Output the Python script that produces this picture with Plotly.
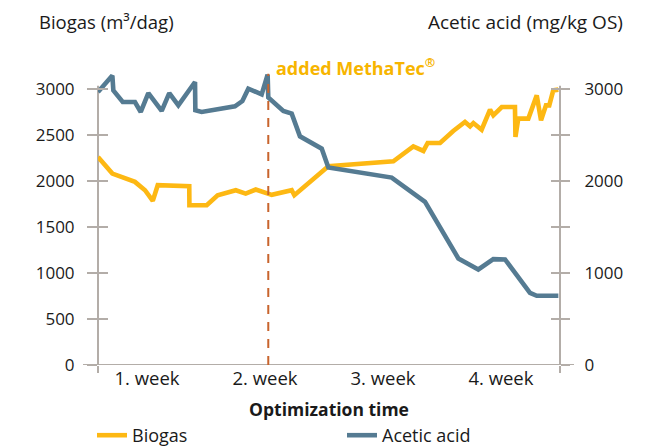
import plotly.graph_objects as go

# ---- data (x in days of optimization) ----
biogas_days = [0, 0.87, 2.24, 2.85, 3.32, 3.62, 5.53, 5.54, 6.59, 7.25, 8.35, 8.95, 9.56,
               10.53, 11.74, 11.90, 13.96, 17.90, 19.11, 19.72, 19.98, 20.73, 21.53, 22.24,
               22.55, 22.75, 23.25, 23.76, 23.96, 24.47, 25.27, 25.30, 25.47, 26.08, 26.59,
               26.85, 27.15, 27.35, 27.59, 27.90]
biogas_vals = [2265, 2083, 1993, 1902, 1786, 1957, 1946, 1739, 1739, 1848, 1902, 1866, 1910,
               1852, 1902, 1848, 2163, 2217, 2380, 2330, 2417, 2417, 2547, 2645,
               2598, 2634, 2561, 2779, 2717, 2808, 2808, 2482, 2682, 2682, 2935,
               2663, 2826, 2826, 2989, 2997]

acetic_days = [0, 0.87, 0.93, 1.50, 2.24, 2.59, 3.05, 3.86, 4.32, 4.87, 5.88, 5.90, 6.28,
               8.30, 8.75, 9.11, 9.92, 10.28, 10.32, 11.23, 11.74, 12.24, 13.56, 13.96,
               17.80, 19.82, 21.84, 23.05, 23.96, 24.67, 26.18, 26.59, 27.90]
acetic_vals = [2971, 3150, 2989, 2862, 2862, 2754, 2960, 2765, 2960, 2826, 3080, 2772, 2754,
               2815, 2873, 3008, 2946, 3160, 2912, 2765, 2736, 2489, 2355, 2150,
               2040, 1775, 1160, 1040, 1152, 1149, 786, 753, 753]

week_labels = ["1. week", "2. week", "3. week", "4. week"]
week_pos = [2.97, 10.12, 17.27, 24.42]
y_ticks = [0, 500, 1000, 1500, 2000, 2500, 3000]
y2_ticktext = ["0", "", "1000", "", "2000", "", "3000"]
methatec_day = 10.32

YELLOW = "#FDB813"
BLUE = "#557B92"
GRAY = "#B3ADA8"
DASH = "#C8642D"
TXT = "#1a1a1a"
FONT = "Open Sans"

L, R, T, B = 98, 92, 71, 81
W, H = 652, 446
PW, PH = W - L - R, H - T - B


def px_x(px):
    return (px - L) / PW


def px_y(py):
    return (H - B - py) / PH


fig = go.Figure()
fig.add_trace(go.Scatter(x=biogas_days, y=biogas_vals, mode="lines", name="Biogas",
                         line=dict(color=YELLOW, width=4.6), xaxis="x", yaxis="y"))
fig.add_trace(go.Scatter(x=acetic_days, y=acetic_vals, mode="lines", name="Acetic acid",
                         line=dict(color=BLUE, width=4.6), xaxis="x", yaxis="y2"))
# invisible helpers so the tick-only overlay axes get drawn
fig.add_trace(go.Scatter(x=[None], y=[None], xaxis="x2", yaxis="y3", showlegend=False, hoverinfo="skip"))
fig.add_trace(go.Scatter(x=[None], y=[None], xaxis="x2", yaxis="y4", showlegend=False, hoverinfo="skip"))

YR = [0, 3200]
fig.update_layout(
    width=W, height=H,
    margin=dict(l=L, r=R, t=T, b=B, autoexpand=False),
    paper_bgcolor="white", plot_bgcolor="white",
    font=dict(family=FONT, size=17, color=TXT),
    showlegend=True,
    legend=dict(orientation="h", x=px_x(92), y=px_y(417), xanchor="left", yanchor="top",
                entrywidth=205, font=dict(size=18), itemwidth=30),
    xaxis=dict(range=[0, 28], tickvals=week_pos, ticktext=week_labels, ticks="",
               showline=False, showgrid=False, zeroline=False, automargin=False,
               tickfont=dict(size=18.5),
               title=dict(text="<b>Optimization time</b>", font=dict(size=17.5), standoff=15)),
    xaxis2=dict(range=[0, 28], overlaying="x", anchor="y", side="bottom",
                tickvals=[0, 28], ticks="outside", ticklen=7, tickwidth=2, tickcolor=GRAY,
                showticklabels=False, showline=False, showgrid=False, zeroline=False),
    yaxis=dict(range=YR, tickvals=y_ticks, ticks="outside", ticklen=10, tickwidth=2,
               tickcolor=GRAY, showline=False, showgrid=False, zeroline=False,
               automargin=False, tickfont=dict(size=17), ticklabelstandoff=9),
    yaxis2=dict(range=YR, overlaying="y", side="right", anchor="x", tickvals=y_ticks,
                ticktext=y2_ticktext, ticks="outside", ticklen=9, tickwidth=2, tickcolor=GRAY,
                showline=False, showgrid=False, zeroline=False, tickfont=dict(size=17),
                automargin=False, ticklabelstandoff=11),
    yaxis3=dict(range=YR, overlaying="y", side="left", anchor="x2", tickvals=y_ticks,
                ticks="inside", ticklen=10, tickwidth=2, tickcolor=GRAY,
                showticklabels=False, showline=False, showgrid=False, zeroline=False),
    yaxis4=dict(range=YR, overlaying="y", side="right", anchor="x2", tickvals=y_ticks,
                ticks="inside", ticklen=9, tickwidth=2, tickcolor=GRAY,
                showticklabels=False, showline=False, showgrid=False, zeroline=False),
)

# axis lines (end at 3000)
fig.add_shape(type="line", xref="paper", yref="y", x0=0, x1=0, y0=0, y1=3040,
              line=dict(color=GRAY, width=2), layer="below")
fig.add_shape(type="line", xref="paper", yref="y", x0=1, x1=1, y0=0, y1=3040,
              line=dict(color=GRAY, width=2), layer="below")
fig.add_shape(type="line", xref="paper", yref="y", x0=px_x(83), x1=px_x(574), y0=0, y1=0,
              line=dict(color=GRAY, width=2), layer="below")
# MethaTec marker
fig.add_shape(type="line", xref="x", yref="y", x0=methatec_day, x1=methatec_day, y0=0, y1=3170,
              line=dict(color=DASH, width=2, dash="9px,8px"), layer="above")
fig.add_annotation(x=methatec_day, xref="x", y=px_y(67), yref="paper", xshift=6,
                   text="<b>added MethaTec<sup>®</sup></b>", showarrow=False,
                   xanchor="left", yanchor="middle",
                   font=dict(color="#F7B500", size=18, family=FONT))
# axis titles
fig.add_annotation(x=px_x(37), xref="paper", y=px_y(22), yref="paper",
                   text="Biogas (m³/dag)", showarrow=False,
                   xanchor="left", yanchor="middle", font=dict(size=18.5))
fig.add_annotation(x=px_x(625), xref="paper", y=px_y(22), yref="paper",
                   text="Acetic acid (mg/kg OS)", showarrow=False,
                   xanchor="right", yanchor="middle", font=dict(size=19))

fig.write_html("out.html", post_script="document.body.style.margin='0px';",
               config={"displayModeBar": False})
